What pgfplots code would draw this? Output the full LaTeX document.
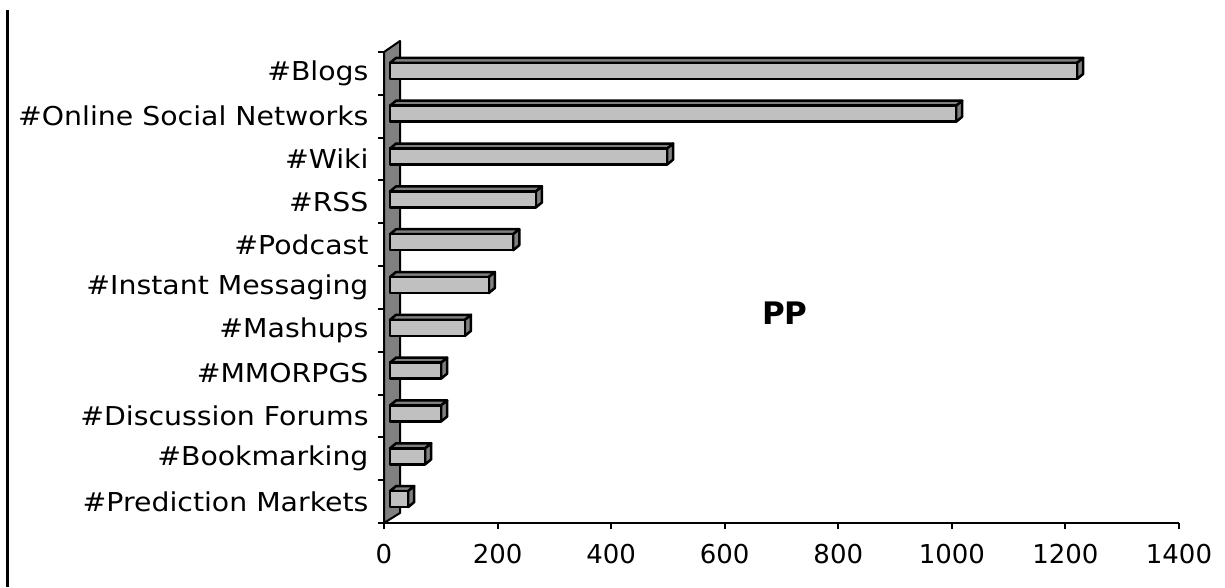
\documentclass[border=0pt]{standalone}
\usepackage{pgfplots}
\usepackage{pgfplotstable}
\usepackage{fontspec}
\setmainfont{DejaVu Sans}
\newfontfamily\labelfont[FakeStretch=1.09]{DejaVu Sans}
\pgfplotsset{compat=1.18}

\definecolor{facefront}{HTML}{C0C0C0}
\definecolor{faceside}{HTML}{808080}

% values per category, bottom (0) to top (10)
\pgfplotstableread{
idx v
0 32
1 62
2 90
3 90
4 132
5 174
6 217
7 257
8 488
9 997
10 1210
}\datatable

\begin{document}
\begin{tikzpicture}
\useasboundingbox (0,0) rectangle (1225pt,587pt);
\draw[line width=3pt] (7pt,577pt) -- (7pt,0pt);
\begin{axis}[
    scale only axis,
    width=795pt, height=471pt,
    at={(384pt,64pt)}, anchor=south west,
    xmin=0, xmax=1400,
    ymin=-0.5, ymax=10.5,
    clip=false,
    axis x line*=bottom,
    axis y line*=left,
    axis line style={line width=2pt, black},
    xtick={0,200,...,1400},
    ytick={0,...,10},
    yticklabels={\#Prediction Markets,\#Bookmarking,\#Discussion Forums,\#MMORPGS,\#Mashups,\#Instant Messaging,\#Podcast,\#RSS,\#Wiki,\#Online Social Networks,\#Blogs},
    ytick style={draw=none},
    xtick style={line width=2pt, black},
    tick align=outside,
    major tick length=6pt,
    tick label style={font=\fontsize{26}{31}\selectfont},
    /pgf/number format/assume math mode=true,
    /pgf/number format/1000 sep={},
    yticklabel style={xshift=-6pt, font=\labelfont\fontsize{26}{31}\selectfont},
    xticklabel style={yshift=-12pt},
    frontface/.style={fill=facefront, draw=black, line width=2.5pt, line join=round},
    sideface/.style={fill=faceside, draw=black, line width=2.5pt, line join=round},
]
% wall
\addplot[sideface, line width=2pt] coordinates {(0,-0.5) (0,10.5) (28.2,10.757) (28.2,-0.266)} -- cycle;
% boundary ticks on the wall edge
\pgfplotsinvokeforeach{-0.5,0.5,...,10.5}{
  \draw[line width=2pt] (axis cs:0,#1) -- ([xshift=-6pt]axis cs:0,#1);
}
% 3-d bars
\pgfplotsinvokeforeach{0,...,10}{
  \pgfplotstablegetelem{#1}{v}\of\datatable
  \pgfmathsetmacro\xf{\pgfplotsretval+10.6}
  \pgfmathsetmacro\xb{\pgfplotsretval+21.2}
  \pgfmathsetmacro\ylo{#1-0.129}
  \pgfmathsetmacro\yhi{#1+0.245}
  \pgfmathsetmacro\ytop{#1+0.362}
  \pgfmathsetmacro\ybot{#1-0.012}
  \edef\temp{%
    \noexpand\addplot[sideface] coordinates {(10.6,\yhi) (21.2,\ytop) (\xb,\ytop) (\xf,\yhi)} -- cycle;
    \noexpand\addplot[sideface] coordinates {(\xf,\ylo) (\xf,\yhi) (\xb,\ytop) (\xb,\ybot)} -- cycle;
    \noexpand\addplot[frontface] coordinates {(10.6,\ylo) (\xf,\ylo) (\xf,\yhi) (10.6,\yhi)} -- cycle;
  }
  \temp
}
\node[font=\bfseries\fontsize{31}{36}\selectfont] at (axis cs:706,4.4) {PP};
\end{axis}
\end{tikzpicture}
\end{document}
